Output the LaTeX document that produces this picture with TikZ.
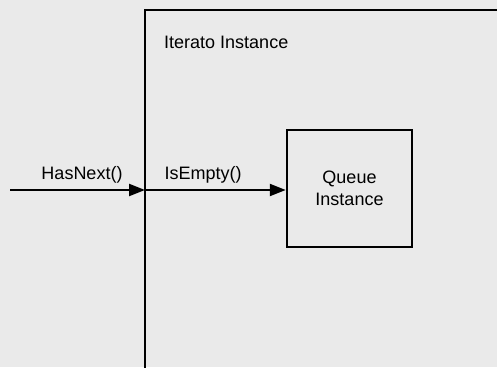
\documentclass[tikz,border=0pt]{standalone}
\usepackage{fontspec}
\setmainfont{Liberation Sans}
\usetikzlibrary{arrows.meta}
\definecolor{bgdither}{HTML}{EAEAEA}
\tikzset{
  frame/.style={draw=black, line width=2.5pt},
  msg/.style={draw=black, line width=2.2pt, -{Triangle[length=16pt,width=12pt]}},
  lbl/.style={font=\fontsize{18pt}{21pt}\selectfont, inner sep=0pt},
}
\begin{document}
\begin{tikzpicture}[x=1pt,y=-1pt]
\fill[bgdither] (0,0) rectangle (497,367);
\useasboundingbox (0,0) rectangle (497,367);
% Iterato instance (open to right and bottom)
\draw[frame] (145,372) -- (145,10) -- (502,10);
\node[lbl, anchor=west] (itlbl) at (164,42) {Iterato Instance};
% Queue instance
\node[frame, minimum width=125pt, minimum height=117pt, inner sep=0pt,
      align=center, font=\fontsize{18pt}{22pt}\selectfont] (queue) at (349.5,188.5) {Queue\\Instance};
% connectors
\coordinate (start) at (10,190);
\coordinate (entry) at (145,190);
\draw[msg] (start) -- (entry);
\draw[msg] (entry) -- (queue.west |- entry);
\node[lbl] (hasnext) at (82,175) {HasNext()};
\node[lbl] (isempty) at (203,175) {IsEmpty()};
\end{tikzpicture}
\end{document}
